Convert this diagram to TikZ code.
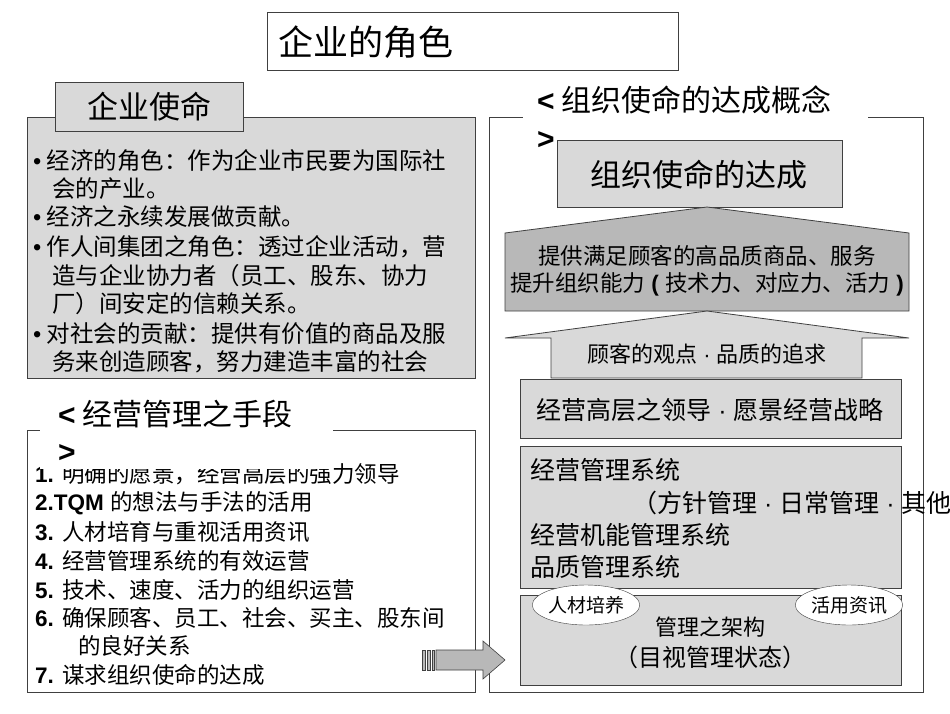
\documentclass[tikz,border=0pt]{standalone}
\usepackage{fontspec}
\setmainfont{Noto Sans CJK SC}
\newfontfamily\lat{Liberation Sans}
\usetikzlibrary{shapes.geometric}
\definecolor{lg}{HTML}{D9D9D9}
\definecolor{dg}{HTML}{B8B8B8}
\definecolor{ln}{HTML}{404040}
\newcommand{\dt}{{\lat\ ·\ }}
\newcommand{\bl}{{\lat •}\ }
\tikzset{
 box/.style={draw=ln,line width=0.8pt},
 txt/.style={anchor=west,inner sep=0pt,align=left},
 fs/.style={font=\fontsize{#1}{#1}\selectfont},
}
\begin{document}
\begin{tikzpicture}[x=1pt,y=-1pt]
\useasboundingbox[fill=white] (0,0) rectangle (950,713);
% title
\draw[box,fill=white] (267,12) rectangle (678,70);
\node[txt,fs=35] (title) at (278,42) {企业的角色};
% left top
\draw[box,fill=lg] (27,117) rectangle (475,378);
\draw[box,fill=lg] (55,82) rectangle (243,131);
\node[fs=31,inner sep=0pt] (mis) at (149,107) {企业使命};
\begin{scope}[every node/.style={txt,fs=23.5}]
\node (b1) at (33,161) {\bl 经济的角色：作为企业市民要为国际社};
\node (b2) at (52,189) {会的产业。};
\node (b3) at (33,217) {\bl 经济之永续发展做贡献。};
\node (b4) at (33,247) {\bl 作人间集团之角色：透过企业活动，营};
\node (b5) at (52,276) {造与企业协力者（员工、股东、协力};
\node (b6) at (52,304) {厂）间安定的信赖关系。};
\node (b7) at (33,334) {\bl 对社会的贡献：提供有价值的商品及服};
\node (b8) at (52,362) {务来创造顾客，努力建造丰富的社会};
\end{scope}
% left bottom
\draw[box,fill=white] (27,430) rectangle (475,692);
\begin{scope}[every node/.style={txt,fs=22.5}]
\node (i1) at (35,474) {\lat\bfseries 1. \normalfont 明确的愿景，经营高层的强力领导};
\fill[white] (40,391) rectangle (333,469);
\node (i2) at (35,503) {\lat\bfseries 2.TQM \normalfont 的想法与手法的活用};
\node (i3) at (35,532) {\lat\bfseries 3. \normalfont 人材培育与重视活用资讯};
\node (i4) at (35,561) {\lat\bfseries 4. \normalfont 经营管理系统的有效运营};
\node (i5) at (35,590) {\lat\bfseries 5. \normalfont 技术、速度、活力的组织运营};
\node (i6) at (35,618) {\lat\bfseries 6. \normalfont 确保顾客、员工、社会、买主、股东间};
\node (i6b) at (78,646) {的良好关系};
\node (i7) at (35,675) {\lat\bfseries 7. \normalfont 谋求组织使命的达成};
\end{scope}
\node[txt,fs=30] (ml) at (58,414) {\lat\bfseries <\normalfont\ 经营管理之手段};
\node[txt,fs=30] (ml2) at (58,453) {\lat\bfseries >};
% right
\draw[box,fill=white] (489,117) rectangle (923,692);
\fill[white] (523,78) rectangle (868,124);
\node[txt,fs=30] (rl) at (537,100) {\lat\bfseries <\normalfont\ 组织使命的达成概念};
\node[txt,fs=30] (rl2) at (537,140) {\lat\bfseries >};
\draw[box,fill=lg] (557,140) rectangle (842,207);
\node[fs=31,inner sep=0pt] (goal) at (699,175) {组织使命的达成};
\draw[box,fill=dg] (505,233) -- (707,207) -- (909,233) -- (909,311) -- (505,311) -- cycle;
\node[fs=22.5,align=center,inner sep=0pt] (a1) at (707,271) {提供满足顾客的高品质商品、服务\\[4pt]提升组织能力\lat\bfseries{ ( }\normalfont 技术力、对应力、活力\lat\bfseries{ )}};
\draw[box,fill=lg] (505,338) -- (707,311) -- (909,338) -- (862,338) -- (862,378) -- (551,378) -- (551,338) -- cycle;
\node[fs=22,inner sep=0pt] (a2) at (707,354) {顾客的观点\dt 品质的追求};
\draw[box,fill=lg] (520,379) rectangle (901,438);
\node[fs=25,inner sep=0pt] (lead) at (710,410) {经营高层之领导\dt 愿景经营战略};
\draw[box,fill=lg] (520,446) rectangle (901,588);
\begin{scope}[every node/.style={txt,fs=25}]
\node (s1) at (530,470) {经营管理系统};
\node (s2) at (632,503) {（方针管理\dt 日常管理\dt 其他）};
\node (s3) at (530,535) {经营机能管理系统};
\node (s4) at (530,567) {品质管理系统};
\end{scope}
\draw[box,fill=lg] (520,595) rectangle (901,685);
\node[fs=22,inner sep=0pt] (fw) at (710,627) {管理之架构};
\node[fs=24,inner sep=0pt] (fw2) at (710,657) {（目视管理状态）};
\node[ellipse,draw=ln,fill=white,minimum width=88pt,minimum height=40pt,inner sep=0pt,fs=19] (e1) at (586,605) {人材培养};
\node[ellipse,draw=ln,fill=white,minimum width=88pt,minimum height=40pt,inner sep=0pt,fs=19] (e2) at (849,605) {活用资讯};
% striped arrow
\draw[ln,fill=dg,line width=0.6pt] (422,650) rectangle (425,670) (427,650) rectangle (430,670) (432,650) rectangle (434,670);
\draw[ln,fill=dg,line width=0.6pt] (436,650) -- (483,650) -- (483,641) -- (505,660) -- (483,679) -- (483,670) -- (436,670) -- cycle;
\end{tikzpicture}
\end{document}
